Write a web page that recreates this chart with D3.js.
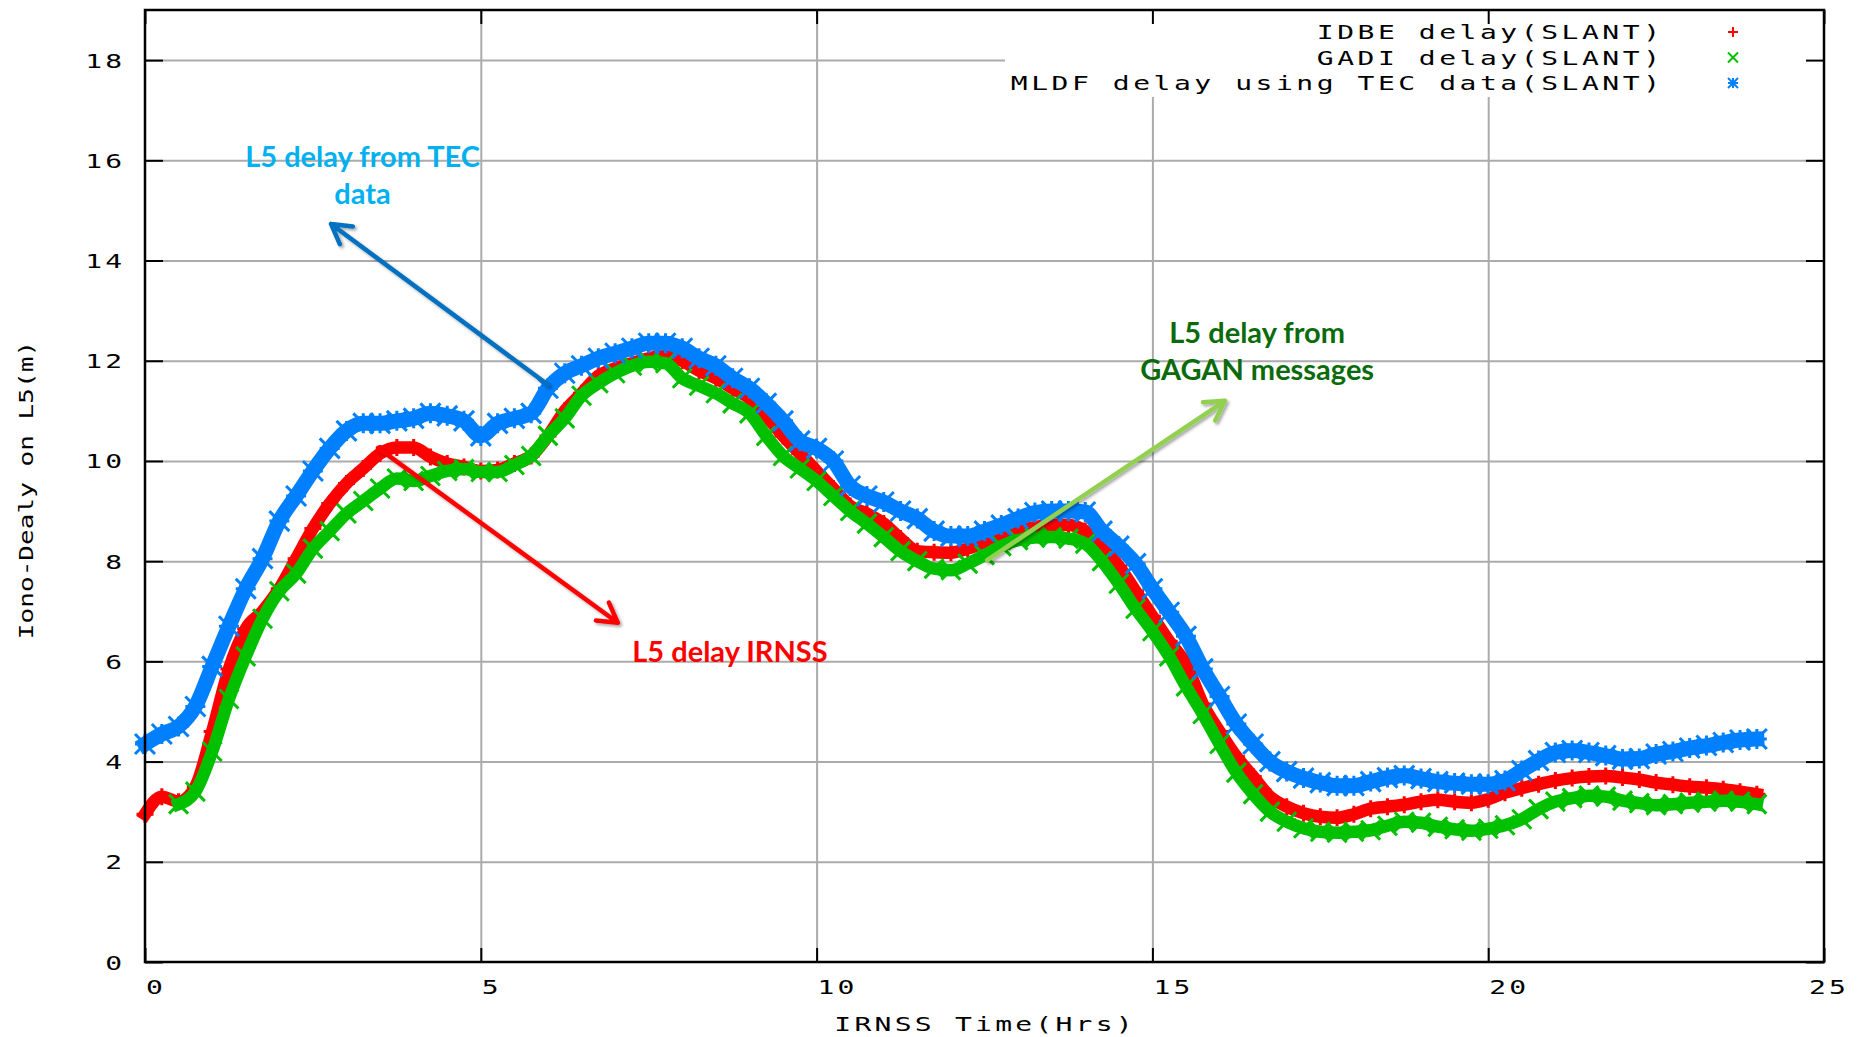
<!DOCTYPE html>
<html>
<head>
<meta charset="utf-8">
<script src="https://cdn.jsdelivr.net/npm/d3@7/dist/d3.min.js"></script>
<style>
	body { margin: 0; background: #fff; }
	svg { display: block; }
</style>
</head>
<body>
<svg id="chart" width="1857" height="1037"></svg>
<script>
/*
 *	DATA (hours every 15 min)
 */
const hours = [
	0, 0.25, 0.5, 0.75, 1, 1.25, 1.5, 1.75, 2, 2.25, 2.5, 2.75,
	3, 3.25, 3.5, 3.75, 4, 4.25, 4.5, 4.75, 5, 5.25, 5.5, 5.75,
	6, 6.25, 6.5, 6.75, 7, 7.25, 7.5, 7.75, 8, 8.25, 8.5, 8.75,
	9, 9.25, 9.5, 9.75, 10, 10.25, 10.5, 10.75, 11, 11.25, 11.5, 11.75,
	12, 12.25, 12.5, 12.75, 13, 13.25, 13.5, 13.75, 14, 14.25, 14.5, 14.75,
	15, 15.25, 15.5, 15.75, 16, 16.25, 16.5, 16.75, 17, 17.25, 17.5, 17.75,
	18, 18.25, 18.5, 18.75, 19, 19.25, 19.5, 19.75, 20, 20.25, 20.5, 20.75,
	21, 21.25, 21.5, 21.75, 22, 22.25, 22.5, 22.75, 23, 23.25, 23.5, 23.75,
	24
]

// IDBE delay(SLANT)
const idbeDelay = [
	2.95, 3.3, 3.2, 3.5, 4.6, 5.85, 6.65, 7.0, 7.45, 8.05, 8.65, 9.15,
	9.55, 9.85, 10.15, 10.27, 10.27, 10.08, 9.95, 9.88, 9.8, 9.82, 9.95, 10.1,
	10.5, 11.0, 11.35, 11.7, 11.85, 11.95, 12.05, 12.1, 12.0, 11.8, 11.65, 11.45,
	11.25, 10.9, 10.5, 10.15, 9.8, 9.45, 9.1, 8.95, 8.75, 8.45, 8.2, 8.18,
	8.17, 8.25, 8.37, 8.5, 8.6, 8.68, 8.72, 8.72, 8.6, 8.28, 7.9, 7.4,
	6.9, 6.4, 5.95, 5.15, 4.6, 4.1, 3.7, 3.3, 3.1, 2.97, 2.9, 2.88,
	2.95, 3.06, 3.1, 3.14, 3.2, 3.24, 3.2, 3.18, 3.25, 3.38, 3.47, 3.55,
	3.62, 3.67, 3.7, 3.71, 3.68, 3.64, 3.58, 3.54, 3.5, 3.48, 3.45, 3.4,
	3.35
]

// GADI delay(SLANT), no samples before ~0.5 h
const gadiDelay = [
	null, null, 3.15, 3.4, 4.2, 5.25, 6.1, 6.85, 7.4, 7.75, 8.25, 8.6,
	8.95, 9.2, 9.45, 9.65, 9.6, 9.7, 9.8, 9.84, 9.78, 9.78, 9.92, 10.1,
	10.5, 10.85, 11.3, 11.55, 11.75, 11.9, 11.98, 11.95, 11.65, 11.5, 11.35, 11.15,
	10.95, 10.5, 10.1, 9.85, 9.6, 9.3, 9.0, 8.75, 8.48, 8.2, 8.0, 7.85,
	7.82, 7.95, 8.12, 8.3, 8.42, 8.47, 8.48, 8.45, 8.35, 8.0, 7.55, 7.05,
	6.6, 6.1, 5.5, 4.95, 4.35, 3.78, 3.35, 3.0, 2.8, 2.67, 2.6, 2.58,
	2.6, 2.63, 2.72, 2.8, 2.78, 2.7, 2.65, 2.62, 2.66, 2.73, 2.85, 3.05,
	3.2, 3.27, 3.32, 3.3, 3.22, 3.17, 3.13, 3.15, 3.18, 3.2, 3.22, 3.2,
	3.15
]

// MLDF delay using TEC data(SLANT)
const mldfDelay = [
	4.35, 4.55, 4.7, 5.1, 5.9, 6.7, 7.45, 8.05, 8.8, 9.3, 9.8, 10.25,
	10.6, 10.75, 10.75, 10.8, 10.85, 10.95, 10.9, 10.8, 10.5, 10.75, 10.85, 10.95,
	11.45, 11.75, 11.9, 12.05, 12.15, 12.25, 12.35, 12.35, 12.25, 12.05, 11.9, 11.65,
	11.45, 11.15, 10.8, 10.4, 10.25, 10.0, 9.5, 9.3, 9.18, 9.0, 8.85, 8.6,
	8.5, 8.5, 8.6, 8.72, 8.85, 8.97, 9.0, 9.0, 8.98, 8.6, 8.3, 7.95,
	7.45, 6.98, 6.5, 5.85, 5.3, 4.75, 4.35, 4.0, 3.8, 3.67, 3.58, 3.52,
	3.52, 3.6, 3.68, 3.72, 3.66, 3.6, 3.57, 3.55, 3.55, 3.62, 3.82, 4.02,
	4.18, 4.22, 4.18, 4.12, 4.05, 4.06, 4.15, 4.2, 4.27, 4.32, 4.38, 4.43,
	4.45
]

const seriesNames = ['IDBE delay(SLANT)', 'GADI delay(SLANT)', 'MLDF delay using TEC data(SLANT)']
const seriesColors = ['#ff0000', '#00c000', '#0080ff']
const seriesMarkers = ['plus', 'cross', 'star']

const xTicks = [0, 5, 10, 15, 20, 25]
const yTicks = [0, 2, 4, 6, 8, 10, 12, 14, 16, 18]

// callouts drawn over the plot: [from hour, from value] -> [to hour, to value]
const calloutLabels = [['L5 delay from TEC', 'data'], ['L5 delay IRNSS'], ['L5 delay from', 'GAGAN messages']]
const calloutTextAt = [[3.24, 15.87], [8.71, 5.99], [16.56, 12.36]]
const calloutArrows = [[[6.0, 11.52], [2.77, 14.73]], [[3.47, 10.26], [7.04, 6.77]], [[12.54, 8.02], [16.08, 11.2]]]
const calloutTextColors = ['#00b0f0', '#ff0000', '#0b6b0b']
const calloutArrowColors = ['#0070c0', '#ff0000', '#92d050']

var Chart = {
	/*
	 *	PROPERTIES
	 */
	width: 1857,
	height: 1037,
	left: 145,
	right: 1824,
	top: 10,
	bottom: 962,
	monoFont: "'DejaVu Sans Mono', 'Liberation Mono', monospace",
	monoSize: 20,
	monoAdvance: 12.04,  // DejaVu Sans Mono advance at 20px
	monoStretch: 1.4,    // gnuplot's bitmap font is wider than DejaVu
	noteFont: "Lato, 'Open Sans', sans-serif",
	svg: null,
	x: null,
	y: null,

	/*
	 *	METHODS
	 */
	init(selector) {
		this.svg = d3.select(selector)
		this.x = d3.scaleLinear().domain([0, 25]).range([this.left, this.right])
		this.y = d3.scaleLinear().domain([0, 19]).range([this.bottom, this.top])

		const defs = this.svg.append('defs')
		const shadow = defs.append('filter').attr('id', 'shadow')
			.attr('x', '-20%').attr('y', '-20%').attr('width', '140%').attr('height', '140%')
		shadow.append('feDropShadow')
			.attr('dx', 2).attr('dy', 2).attr('stdDeviation', 1.5)
			.attr('flood-color', '#000').attr('flood-opacity', 0.35)
		return this
	},
	draw() {
		this.drawGrid()
		this.drawSeries()
		this.drawLegend()
		this.drawFrame()
		this.drawTickLabels()
		this.drawAxisLabels()
		this.drawCallouts()
	},
	/* monospace text stretched sideways, `pitch` px per character */
	monoText(parent, x, y, str, anchor, pitch, stretch, rotate) {
		const sx = stretch ?? this.monoStretch
		const ls = pitch / sx - this.monoAdvance
		const n = str.length
		const w = n * pitch - ls * sx
		var x0 = x
		if (anchor === 'end') x0 = x - w
		if (anchor === 'middle') x0 = x - w / 2

		const g = parent.append('g')
		if (rotate) {
			// rotated text is positioned by its centre
			g.attr('transform', `translate(${x},${y}) rotate(${rotate}) translate(${-w / 2},0) scale(${sx},1)`)
		} else {
			g.attr('transform', `translate(${x0},${y}) scale(${sx},1)`)
		}
		g.append('text')
			.attr('font-family', this.monoFont)
			.attr('font-size', this.monoSize)
			.attr('letter-spacing', ls)
			.attr('fill', '#000')
			.text(str)
		return w
	},
	drawGrid() {
		const g = this.svg.append('g')
		const plotH = this.bottom - this.top
		const plotW = this.right - this.left

		g.append('g')
			.attr('transform', `translate(0,${this.bottom})`)
			.call(d3.axisBottom(this.x).tickValues([5, 10, 15, 20]).tickSize(-plotH).tickFormat(''))
			.call(a => a.select('.domain').remove())
			.selectAll('line').attr('stroke', '#ababab').attr('stroke-width', 2)

		g.append('g')
			.attr('transform', `translate(${this.left},0)`)
			.call(d3.axisLeft(this.y).tickValues(yTicks.slice(1)).tickSize(-plotW).tickFormat(''))
			.call(a => a.select('.domain').remove())
			.selectAll('line').attr('stroke', '#ababab').attr('stroke-width', 2)
	},
	markerPath(kind, s) {
		const plus = `M${-s},0H${s}M0,${-s}V${s}`
		const cross = `M${-s},${-s}L${s},${s}M${-s},${s}L${s},${-s}`
		if (kind === 'plus') return plus
		if (kind === 'cross') return cross
		return plus + cross
	},
	drawSeries() {
		const all = [idbeDelay, gadiDelay, mldfDelay]
		const markerSize = [8.5, 9.5, 10]
		const line = d3.line()
			.defined(d => d[1] !== null)
			.x(d => this.x(d[0]))
			.y(d => this.y(d[1]))
			.curve(d3.curveMonotoneX)

		all.forEach((values, i) => {
			const pts = hours.map((h, k) => [h, values[k]])
			const color = seriesColors[i]
			const g = this.svg.append('g')

			g.append('path')
				.datum(pts)
				.attr('d', line)
				.attr('fill', 'none')
				.attr('stroke', color)
				.attr('stroke-width', i === 2 ? 15 : 12.5)
				.attr('stroke-linejoin', 'round')
				.attr('stroke-linecap', 'square')

			g.selectAll('path.pt')
				.data(pts.filter(d => d[1] !== null))
				.join('path')
				.attr('class', 'pt')
				.attr('transform', d => `translate(${this.x(d[0])},${this.y(d[1])})`)
				.attr('d', this.markerPath(seriesMarkers[i], markerSize[i]))
				.attr('stroke', color)
				.attr('stroke-width', 3)
				.attr('fill', 'none')
		})
	},
	drawLegend() {
		const g = this.svg.append('g')
		g.append('rect')
			.attr('x', 1005).attr('y', this.top + 1)
			.attr('width', this.right - 1005 - 2).attr('height', 86)
			.attr('fill', '#fff')

		seriesNames.forEach((name, i) => {
			const cy = 32 + i * 25.5
			this.monoText(g, 1660, cy + 7, name, 'end', 20.4)
			g.append('path')
				.attr('transform', `translate(1733,${cy})`)
				.attr('d', this.markerPath(seriesMarkers[i], 5))
				.attr('stroke', seriesColors[i])
				.attr('stroke-width', 2)
				.attr('fill', 'none')
		})
	},
	drawFrame() {
		const plotH = this.bottom - this.top
		const styleTicks = sel => sel.selectAll('line').attr('stroke', '#000').attr('stroke-width', 2)

		this.svg.append('g')
			.attr('transform', `translate(${this.left},0)`)
			.call(d3.axisLeft(this.y).tickValues(yTicks).tickSize(-18).tickFormat(''))
			.call(a => a.select('.domain').remove())
			.call(styleTicks)

		this.svg.append('g')
			.attr('transform', `translate(${this.right},0)`)
			.call(d3.axisRight(this.y).tickValues(yTicks).tickSize(-18).tickFormat(''))
			.call(a => a.select('.domain').remove())
			.call(styleTicks)

		this.svg.append('g')
			.attr('transform', `translate(0,${this.bottom})`)
			.call(d3.axisBottom(this.x).tickValues(xTicks).tickSize(-14).tickFormat(''))
			.call(a => a.select('.domain').remove())
			.call(styleTicks)

		this.svg.append('g')
			.attr('transform', `translate(0,${this.top})`)
			.call(d3.axisTop(this.x).tickValues(xTicks).tickSize(-14).tickFormat(''))
			.call(a => a.select('.domain').remove())
			.call(styleTicks)

		this.svg.append('rect')
			.attr('x', this.left).attr('y', this.top)
			.attr('width', this.right - this.left).attr('height', plotH)
			.attr('fill', 'none')
			.attr('stroke', '#000')
			.attr('stroke-width', 2.5)
	},
	drawTickLabels() {
		const g = this.svg.append('g')
		const pitch = 20

		yTicks.forEach(v => {
			this.monoText(g, this.left - 23, this.y(v) + 7.5, String(v), 'end', pitch)
		})

		xTicks.forEach(v => {
			const str = String(v)
			const w = str.length * pitch
			// keep the last label inside the page like the reference does
			const x0 = Math.min(this.x(v) + 1, this.width - 8 - w)
			this.monoText(g, x0, this.bottom + 32, str, 'start', pitch)
		})
	},
	drawAxisLabels() {
		const midX = (this.left + this.right) / 2
		const midY = (this.top + this.bottom) / 2

		this.monoText(this.svg, midX - 1, 1031, 'IRNSS Time(Hrs)', 'middle', 20.1)
		this.monoText(this.svg, 33, midY + 4, 'Iono-Dealy on L5(m)', 'middle', 15.7, 1.3, -90)
	},
	drawArrow(from, to, color) {
		const x1 = this.x(from[0]), y1 = this.y(from[1])
		const x2 = this.x(to[0]), y2 = this.y(to[1])
		const ang = Math.atan2(y2 - y1, x2 - x1)
		const len = 22
		const spread = Math.PI / 6
		const hx1 = x2 - len * Math.cos(ang - spread), hy1 = y2 - len * Math.sin(ang - spread)
		const hx2 = x2 - len * Math.cos(ang + spread), hy2 = y2 - len * Math.sin(ang + spread)

		const g = this.svg.append('g').attr('filter', 'url(#shadow)')
		g.append('path')
			.attr('d', `M${x1},${y1}L${x2},${y2}M${hx1},${hy1}L${x2},${y2}L${hx2},${hy2}`)
			.attr('fill', 'none')
			.attr('stroke', color)
			.attr('stroke-width', 4.5)
			.attr('stroke-linecap', 'round')
			.attr('stroke-linejoin', 'round')
	},
	drawCallouts() {
		calloutLabels.forEach((lines, i) => {
			this.drawArrow(calloutArrows[i][0], calloutArrows[i][1], calloutArrowColors[i])

			const [h, v] = calloutTextAt[i]
			const t = this.svg.append('text')
				.attr('x', this.x(h)).attr('y', this.y(v))
				.attr('text-anchor', 'middle')
				.attr('font-family', this.noteFont)
				.attr('font-weight', 'bold')
				.attr('font-size', 29)
				.attr('fill', calloutTextColors[i])

			lines.forEach((line, k) => {
				t.append('tspan')
					.attr('x', this.x(h))
					.attr('dy', k === 0 ? 0 : 37)
					.text(line)
			})
		})
	},
}

Chart.init('#chart').draw()
</script>
</body>
</html>
